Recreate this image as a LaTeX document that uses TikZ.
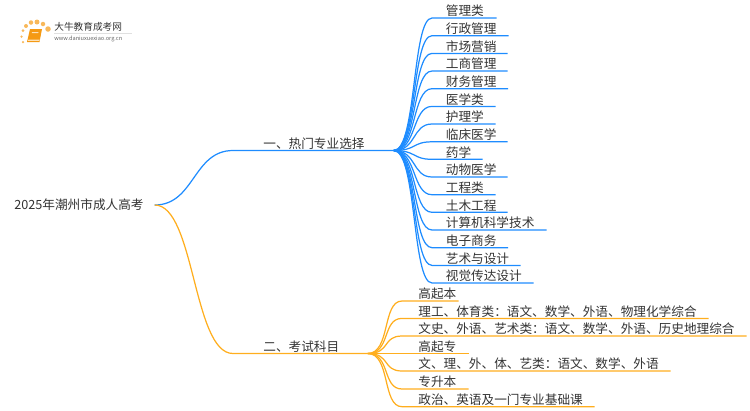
\documentclass[tikz,border=0pt]{standalone}
\usepackage{fontspec}
\setmainfont{Noto Sans CJK SC}
\tikzset{
    leaf/.style={anchor=south west, inner xsep=0pt, inner ysep=0pt, text depth=1.0pt, text height=6.4pt, align=left, text=textgray, font=\fontsize{7.2pt}{8pt}\selectfont},
    blueleaf/.style={leaf, text width=#1*0.02cm, execute at begin node={\hspace*{0.27cm}}},
    orangeleaf/.style={leaf, text width=#1*0.02cm, execute at begin node={\hspace*{0.32cm}}},
    branch/.style={leaf, text width=#1*0.02cm, execute at begin node={\hspace*{0.6cm}}},
    blueline/.style={draw=lineblue, line width=0.7pt},
    orangeline/.style={draw=lineorange, line width=0.7pt},
    twig/.style={out=0, in=180, out distance=0.46cm, in distance=0.4cm},
    limb/.style={out=0, in=180, out distance=0.8cm, in distance=0.8cm},
    sun/.style={circle, fill=logoorange!70, inner sep=0pt, minimum size=#1*0.02cm},
}
\definecolor{textgray}{HTML}{333333}
\definecolor{lineblue}{HTML}{1E8CFF}
\definecolor{lineorange}{HTML}{FFAE1E}
\definecolor{logoorange}{HTML}{F59A13}
\begin{document}
\begin{tikzpicture}[x=0.02cm, y=-0.02cm]
        \useasboundingbox (0, 0) rectangle (750, 410);

        % logo
        \fill[logoorange] (30, 29) -- (42, 29) -- (39.5, 42) -- (27, 42) -- cycle;
        \fill[white!70!logoorange] (28.5, 39.5) -- (39.8, 39.5) -- (39.4, 40.8) -- (28, 40.8) -- cycle;
        \fill[white!70!logoorange] (32, 32) -- (38.5, 32) -- (38.2, 33) -- (31.8, 33) -- cycle;
        \node[sun=4] (dot-a) at (26, 26) {};
        \node[sun=4.5] (dot-b) at (31, 22.5) {};
        \node[sun=5] (dot-c) at (37, 22) {};
        \node[sun=4.5] (dot-d) at (43, 24) {};
        \node[sun=5.5] (dot-e) at (48, 29) {};
        \node[sun=3] (dot-f) at (23, 30.5) {};
        \node[sun=2.5] (dot-g) at (21.5, 36.5) {};
        \node[sun=2.5] (dot-h) at (23, 42) {};
        \node[anchor=west, inner sep=0pt, text=textgray, font=\fontsize{5.5pt}{6pt}\selectfont] (logo-name) at (54, 27) {大牛教育成考网};
        \node[anchor=west, inner sep=0pt, text=black!60, font=\fontsize{3.2pt}{4pt}\selectfont] (logo-url) at (54, 38.5) {www.daniuxuexiao.org.cn};
        \fill[black!12] (54, 33) rectangle (132, 33.5);

        % root and branches
        \node[anchor=west, inner sep=0pt, text width=140*0.02cm, text=textgray, font=\fontsize{7.2pt}{8pt}\selectfont] (root) at (14, 205) {2025年潮州市成人高考};
        \node[branch=160] (topics) at (233, 150.5) {一、热门专业选择};
        \node[branch=134] (exams) at (233, 353.5) {二、考试科目};
        \draw[blueline] (root.east) to[limb] (topics.south west) -- (topics.south east);
        \draw[orangeline] (root.east) to[limb] (exams.south west) -- (exams.south east);

        % first branch
        \node[blueleaf=64] (topic-a) at (432, 18) {管理类};
        \node[blueleaf=76] (topic-b) at (432, 35.7) {行政管理};
        \node[blueleaf=75] (topic-c) at (432, 53.4) {市场营销};
        \node[blueleaf=75] (topic-d) at (432, 71) {工商管理};
        \node[blueleaf=75.5] (topic-e) at (432, 88.7) {财务管理};
        \node[blueleaf=63] (topic-f) at (432, 106.4) {医学类};
        \node[blueleaf=63] (topic-g) at (432, 124) {护理学};
        \node[blueleaf=75] (topic-h) at (432, 141.8) {临床医学};
        \node[blueleaf=50] (topic-i) at (432, 159.3) {药学};
        \node[blueleaf=75] (topic-j) at (432, 177) {动物医学};
        \node[blueleaf=63] (topic-k) at (432, 194.7) {工程类};
        \node[blueleaf=75] (topic-l) at (432, 212.3) {土木工程};
        \node[blueleaf=114] (topic-m) at (432, 230) {计算机科学技术};
        \node[blueleaf=75.5] (topic-n) at (432, 247.7) {电子商务};
        \node[blueleaf=88] (topic-o) at (432, 265.4) {艺术与设计};
        \node[blueleaf=101] (topic-p) at (432, 283) {视觉传达设计};

        \foreach \leaf in {a, b, c, d, e, f, g, h, i, j, k, l, m, n, o, p} {
            \draw[blueline] (topics.south east) to[twig] (topic-\leaf.south west) -- (topic-\leaf.south east);
        }

        % second branch
        \node[orangeleaf=56] (exam-a) at (402, 301) {高起本};
        \node[orangeleaf=306] (exam-b) at (402, 318.4) {理工、体育类：语文、数学、外语、物理化学综合};
        \node[orangeleaf=344] (exam-c) at (402, 336) {文史、外语、艺术类：语文、数学、外语、历史地理综合};
        \node[orangeleaf=66] (exam-d) at (402, 353.5) {高起专};
        \node[orangeleaf=268] (exam-e) at (402, 371) {文、理、外、体、艺类：语文、数学、外语};
        \node[orangeleaf=66] (exam-f) at (402, 389) {专升本};
        \node[orangeleaf=192] (exam-g) at (402, 406.7) {政治、英语及一门专业基础课};

        \foreach \leaf in {a, b, c, d, e, f, g} {
            \draw[orangeline] (exams.south east) to[twig] (exam-\leaf.south west) -- (exam-\leaf.south east);
        }
    \end{tikzpicture}
\end{document}
